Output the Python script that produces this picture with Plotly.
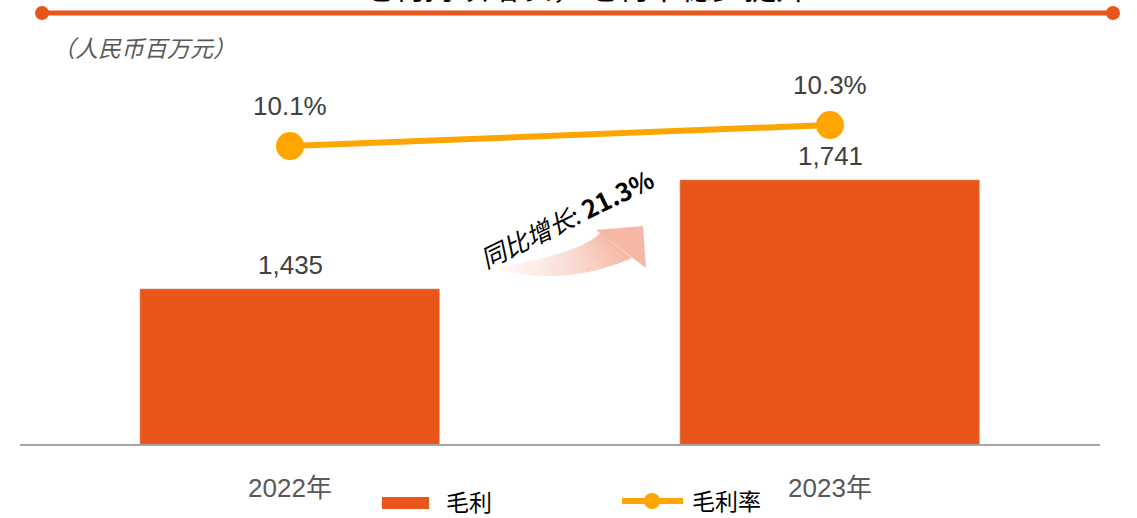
import plotly.graph_objects as go

# ---------------- data ----------------
years = ["2022年", "2023年"]
gross_profit = [1435, 1741]          # 毛利 (人民币百万元)
gross_margin = [10.1, 10.3]          # 毛利率 (%)
title_text = "毛利持续增长，毛利率稳步提升"
unit_text = "（人民币百万元）"
legend_names = ["毛利", "毛利率"]

BAR = "#E8561A"
LINE = "#FFA500"
TXT = "#404040"
CJK = "Noto Sans CJK SC"
LAT = "Liberation Sans, Arial"

W, H = 1137, 518
L, R, T, B = 20, 37, 40, 74
PW, PH = W - L - R, H - T - B


def px(x):
    return (x - L) / PW


def py(y):
    return (H - B - y) / PH


fig = go.Figure()
fig.add_trace(go.Bar(x=years, y=gross_profit, name=legend_names[0], marker_color=BAR,
                     width=0.556, showlegend=False))
fig.add_trace(go.Scatter(x=years, y=gross_margin, name=legend_names[1], yaxis="y2",
                         mode="lines+markers", line=dict(color=LINE, width=6),
                         marker=dict(size=28, color=LINE), showlegend=False))

ann = []
for x, v in zip(years, gross_profit):
    ann.append(dict(x=x, y=v, xref="x", yref="y", text=f"{v:,}", showarrow=False,
                    yanchor="middle", yshift=24, font=dict(family=LAT, size=26, color=TXT)))
for x, v in zip(years, gross_margin):
    ann.append(dict(x=x, y=v, xref="x", yref="y2", text=f"{v:.1f}%", showarrow=False,
                    yanchor="middle", yshift=40, font=dict(family=LAT, size=26, color=TXT)))

growth = (gross_profit[1] / gross_profit[0] - 1) * 100
ann.append(dict(x=px(566), y=py(218), xref="paper", yref="paper", showarrow=False,
                text=f"<i>同比增长</i>: <b>{growth:.1f}%</b>", textangle=-26,
                xanchor="center", yanchor="middle",
                font=dict(family=CJK, size=25, color="#000000")))

# title (clipped at the top like the reference)
ann.append(dict(x=px(584), y=py(-15), xref="paper", yref="paper", showarrow=False,
                text=title_text, xanchor="center", yanchor="middle",
                font=dict(family=CJK, size=32, color="#000000")))
ann.append(dict(x=px(50), y=py(47), xref="paper", yref="paper", showarrow=False,
                text=f"<i>{unit_text}</i>", xanchor="left", yanchor="middle",
                font=dict(family=CJK, size=23, color="#595959")))

# custom legend
ann.append(dict(x=px(444), y=py(501), xref="paper", yref="paper", showarrow=False,
                text=legend_names[0], xanchor="left", yanchor="middle",
                font=dict(family=CJK, size=23, color="#000000")))
ann.append(dict(x=px(690), y=py(500), xref="paper", yref="paper", showarrow=False,
                text=legend_names[1], xanchor="left", yanchor="middle",
                font=dict(family=CJK, size=23, color="#000000")))

shapes = []
# top decorative line with end dots
shapes.append(dict(type="line", xref="paper", yref="paper", x0=px(42), x1=px(1113),
                   y0=py(13), y1=py(13), line=dict(color=BAR, width=5)))
for cx in (42, 1113):
    shapes.append(dict(type="circle", xref="paper", yref="paper", x0=px(cx - 7), x1=px(cx + 7),
                       y0=py(13 + 7), y1=py(13 - 7), fillcolor=BAR, line=dict(width=0)))
# legend symbols
shapes.append(dict(type="rect", xref="paper", yref="paper", x0=px(382), x1=px(429),
                   y0=py(509), y1=py(497), fillcolor=BAR, line=dict(width=0)))
shapes.append(dict(type="line", xref="paper", yref="paper", x0=px(622), x1=px(683),
                   y0=py(501), y1=py(501), line=dict(color=LINE, width=6)))
shapes.append(dict(type="circle", xref="paper", yref="paper", x0=px(644), x1=px(660),
                   y0=py(509), y1=py(493), fillcolor=LINE, line=dict(width=0)))


# gradient curved arrow
def qb(p0, c, p2, t):
    return ((1 - t) ** 2 * p0[0] + 2 * (1 - t) * t * c[0] + t ** 2 * p2[0],
            (1 - t) ** 2 * p0[1] + 2 * (1 - t) * t * c[1] + t ** 2 * p2[1])


U0, Uc, U2 = (493, 268), (580, 254), (600, 233)
L0, Lc, L2 = (493, 268), (563, 288), (632, 258)
N = 24
for i in range(N):
    t0, t1 = i / N, (i + 1) / N
    pts = [qb(U0, Uc, U2, t0), qb(U0, Uc, U2, t1), qb(L0, Lc, L2, t1), qb(L0, Lc, L2, t0)]
    path = "M " + " L ".join(f"{px(a):.5f},{py(b):.5f}" for a, b in pts) + " Z"
    op = 0.04 + 0.5 * ((t0 + t1) / 2) ** 1.3
    shapes.append(dict(type="path", xref="paper", yref="paper", path=path,
                       fillcolor="rgb(237,125,90)", opacity=op, line=dict(width=0), layer="below"))
head = [(596, 230), (643, 226), (646, 268)]
shapes.append(dict(type="path", xref="paper", yref="paper",
                   path="M " + " L ".join(f"{px(a):.5f},{py(b):.5f}" for a, b in head) + " Z",
                   fillcolor="rgb(237,125,90)", opacity=0.55, line=dict(width=0), layer="below"))

fig.update_layout(
    width=W, height=H, margin=dict(l=L, r=R, t=T, b=B),
    paper_bgcolor="white", plot_bgcolor="white",
    xaxis=dict(type="category", range=[-0.5, 1.5], showline=True, linecolor="#A6A6A6",
               linewidth=2, showgrid=False, ticks="", ticklabelstandoff=20,
               tickfont=dict(family=LAT + ", " + CJK, size=26, color="#595959")),
    yaxis=dict(range=[1000, 1000 + PH / 0.3562], visible=False, showgrid=False),
    yaxis2=dict(range=[7.262, 11.11], overlaying="y", visible=False, showgrid=False),
    annotations=ann, shapes=shapes, showlegend=False, bargap=0,
)

fig.write_html("out.html", config={"displayModeBar": False},
               post_script="document.body.style.margin='0';document.body.style.overflow='hidden';")
